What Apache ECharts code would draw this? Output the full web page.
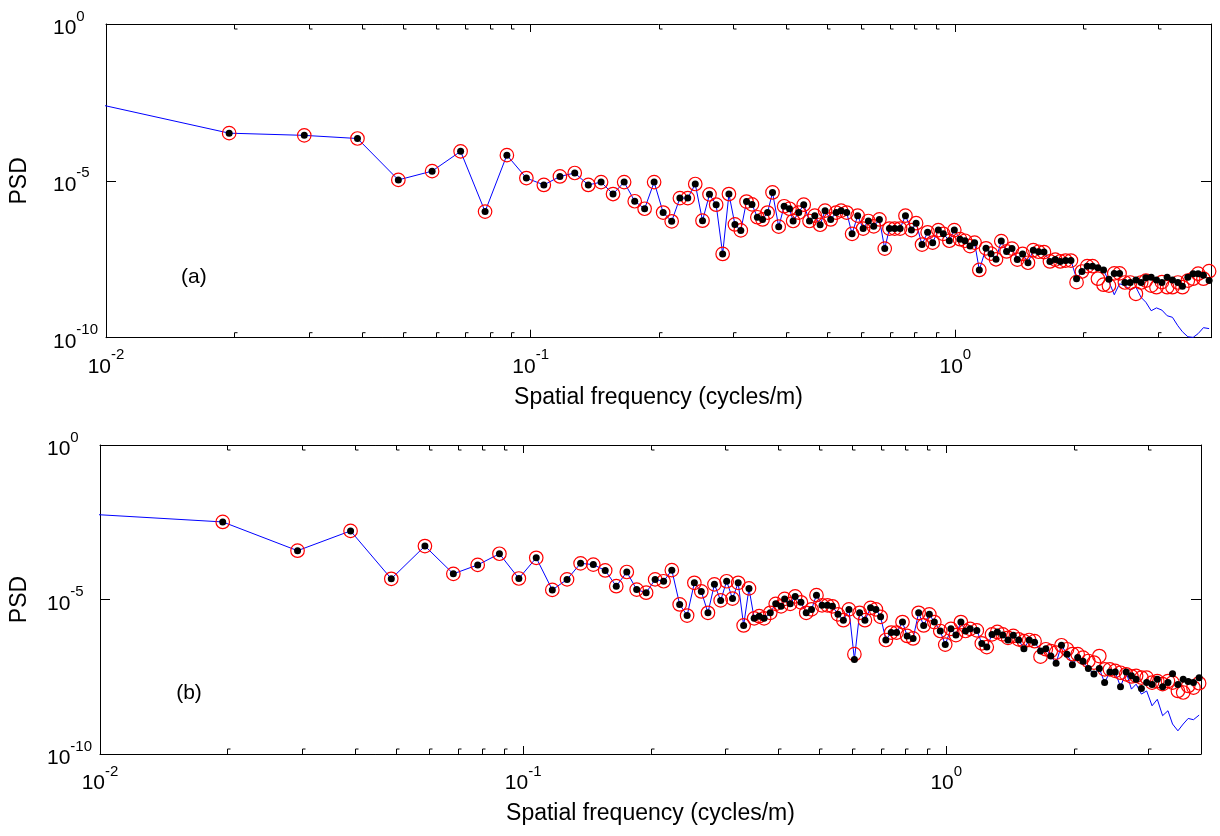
<!DOCTYPE html>
<html><head><meta charset="utf-8">
<script src="https://cdn.jsdelivr.net/npm/echarts@6/dist/echarts.min.js"></script>
<style>html,body{margin:0;padding:0;background:#fff}#c{width:1220px;height:836px}</style>
</head><body><div id="c"></div>
<script>
// ---------- data (frequency in cycles/m, PSD given as log10 values) ----------
const freq = [
0.0195,0.0293,0.0391,0.0488,0.0586,0.0684,0.0781,0.0879,0.0977,0.1074,
0.1172,0.1270,0.1367,0.1465,0.1563,0.1660,0.1758,0.1855,0.1953,0.2051,
0.2148,0.2246,0.2344,0.2441,0.2539,0.2637,0.2734,0.2832,0.2930,0.3027,
0.3125,0.3223,0.3320,0.3418,0.3516,0.3613,0.3711,
0.3838,0.3953,0.4069,0.4150,0.4278,0.4395,0.4535,0.4667,0.4804,0.4935,
0.5087,0.5239,0.5383,0.5548,0.5713,0.5889,0.6066,0.6241,0.6424,0.6625,
0.6820,0.6996,0.7199,0.7412,0.7631,0.7881,0.8084,0.8348,0.8605,0.8844,
0.9120,0.9371,0.9680,0.9945,1.0258,1.0539,1.0829,1.1101,1.1389,1.1810,
1.2134,1.2468,1.2829,1.3203,1.3595,1.3993,1.4402,1.4829,1.5259,1.5704,
1.6170,1.6703,1.7192,1.7665,1.8179,1.8719,1.9296,1.9868,2.0447,2.1044,
2.1669,2.2336,2.3000,2.3673,2.4364,2.5080,2.5813,2.6622,2.7394,2.8102,
2.8922,2.9761,3.0649,3.1537,3.2458,3.3420,3.4262,3.5279,3.6308,3.7309,
3.8391,3.9595];

// first sample of the blue spectra (lies just left of the axis minimum)
const lineStartFreq = 0.00977;
const lineStartA = -2.58;
const lineStartB = -2.25;

// panel (a)
const dotsA = [
-3.48,-3.55,-3.65,-4.97,-4.69,-4.06,-5.98,-4.18,-4.91,-5.13,
-4.86,-4.75,-5.13,-5.04,-5.42,-5.04,-5.65,-5.89,-5.04,-6.01,
-6.29,-5.55,-5.55,-5.10,-6.27,-5.43,-5.76,-7.33,-5.42,-6.39,
-6.58,-5.66,-5.75,-6.16,-6.23,-6.01,-5.37,
-6.46,-5.81,-5.89,-6.28,-6.01,-5.76,-6.28,-6.11,-6.40,-5.95,
-6.23,-6.01,-5.95,-6.01,-6.69,-6.11,-6.52,-6.28,-6.45,-6.23,
-7.16,-6.52,-6.52,-6.52,-6.11,-6.57,-6.35,-7.03,-6.64,-6.97,
-6.57,-6.69,-6.91,-6.57,-6.86,-6.91,-7.08,-6.97,-7.84,-7.15,
-7.32,-7.50,-6.92,-7.25,-7.16,-7.51,-7.33,-7.61,-7.21,-7.26,
-7.27,-7.57,-7.51,-7.57,-7.54,-7.54,-8.12,-7.89,-7.72,-7.72,
-7.77,-7.84,-8.14,-7.95,-7.95,-8.24,-8.24,-8.16,-8.24,-8.09,
-8.07,-8.16,-8.24,-8.07,-8.16,-8.24,-8.36,-8.07,-7.96,-7.96,
-8.01,-8.18];
const circA = [
-3.48,-3.55,-3.65,-4.97,-4.69,-4.06,-5.98,-4.18,-4.91,-5.13,
-4.86,-4.75,-5.13,-5.04,-5.42,-5.04,-5.65,-5.89,-5.04,-6.01,
-6.29,-5.55,-5.55,-5.10,-6.27,-5.43,-5.76,-7.33,-5.42,-6.39,
-6.58,-5.66,-5.75,-6.16,-6.23,-6.01,-5.37,
-6.46,-5.81,-5.89,-6.28,-6.01,-5.76,-6.28,-6.11,-6.40,-5.95,
-6.23,-6.01,-5.95,-6.01,-6.69,-6.11,-6.52,-6.28,-6.45,-6.23,
-7.16,-6.52,-6.52,-6.52,-6.11,-6.57,-6.35,-7.03,-6.64,-6.97,
-6.57,-6.69,-6.91,-6.57,-6.86,-6.91,-7.08,-6.97,-7.84,-7.15,
-7.32,-7.50,-6.92,-7.25,-7.16,-7.51,-7.33,-7.61,-7.21,-7.26,
-7.27,-7.57,-7.51,-7.57,-7.54,-7.54,-8.23,-7.89,-7.72,-7.72,
-8.12,-8.31,-8.34,-7.95,-7.95,-8.24,-8.24,-8.60,-8.24,-8.18,
-8.34,-8.39,-8.23,-8.39,-8.39,-8.24,-8.39,-8.18,-8.12,-7.96,
-8.12,-7.88];
const lineA = [
-3.48,-3.55,-3.65,-4.97,-4.69,-4.06,-5.98,-4.18,-4.91,-5.13,
-4.86,-4.75,-5.13,-5.04,-5.42,-5.04,-5.65,-5.89,-5.04,-6.01,
-6.29,-5.55,-5.55,-5.10,-6.27,-5.43,-5.76,-7.33,-5.42,-6.39,
-6.58,-5.66,-5.75,-6.16,-6.23,-6.01,-5.37,
-6.46,-5.81,-5.89,-6.28,-6.01,-5.76,-6.28,-6.11,-6.40,-5.95,
-6.23,-6.01,-5.95,-6.01,-6.69,-6.11,-6.52,-6.28,-6.45,-6.23,
-7.16,-6.52,-6.52,-6.52,-6.11,-6.57,-6.35,-7.03,-6.64,-6.97,
-6.57,-6.69,-6.91,-6.57,-6.86,-6.91,-7.08,-6.97,-7.84,-7.15,
-7.32,-7.50,-6.92,-7.25,-7.16,-7.51,-7.33,-7.61,-7.21,-7.26,
-7.27,-7.57,-7.51,-7.57,-7.54,-7.54,-8.12,-7.89,-7.72,-7.72,
-7.77,-7.84,-8.21,-8.63,-8.28,-8.34,-8.48,-8.39,-8.72,-8.87,
-9.14,-9.05,-9.12,-9.30,-9.35,-9.62,-9.81,-9.97,-9.99,-9.87,
-9.68,-9.71];

// panel (b)
const dotsB = [
-2.49,-3.42,-2.78,-4.33,-3.27,-4.17,-3.88,-3.52,-4.32,-3.65,
-4.69,-4.35,-3.83,-3.87,-4.06,-4.57,-4.11,-4.68,-4.78,-4.35,
-4.41,-4.05,-5.16,-5.52,-4.46,-4.74,-5.43,-4.51,-5.03,-4.41,
-4.97,-4.46,-5.84,-4.64,-5.61,-5.54,-5.61,
-5.43,-5.14,-5.22,-4.98,-5.14,-4.90,-5.09,-5.43,-5.32,-4.86,
-5.19,-5.19,-5.22,-5.48,-5.67,-5.32,-6.94,-5.43,-5.67,-5.27,
-5.32,-5.56,-6.31,-6.07,-6.07,-5.73,-6.18,-6.26,-5.43,-5.84,
-5.48,-5.73,-6.02,-6.46,-5.95,-6.15,-5.73,-6.02,-5.95,-6.00,
-6.42,-6.54,-6.13,-6.05,-6.15,-6.31,-6.16,-6.31,-6.59,-6.31,
-6.38,-6.67,-6.59,-6.83,-7.06,-6.48,-6.77,-7.11,-6.88,-7.00,
-7.23,-7.41,-7.23,-7.69,-7.35,-7.35,-7.82,-7.35,-7.47,-7.58,
-7.88,-7.69,-7.75,-7.58,-7.82,-7.69,-7.40,-7.75,-7.58,-7.65,
-7.69,-7.53];
const circB = [
-2.49,-3.42,-2.78,-4.33,-3.27,-4.17,-3.88,-3.52,-4.32,-3.65,
-4.69,-4.35,-3.83,-3.87,-4.06,-4.57,-4.11,-4.68,-4.78,-4.35,
-4.41,-4.05,-5.16,-5.52,-4.46,-4.74,-5.43,-4.51,-5.03,-4.41,
-4.97,-4.46,-5.84,-4.64,-5.61,-5.54,-5.61,
-5.43,-5.14,-5.22,-4.98,-5.14,-4.90,-5.09,-5.43,-5.32,-4.86,
-5.19,-5.19,-5.22,-5.48,-5.67,-5.32,-6.77,-5.43,-5.67,-5.27,
-5.32,-5.56,-6.31,-6.07,-6.07,-5.73,-6.18,-6.26,-5.43,-5.84,
-5.48,-5.73,-6.02,-6.46,-5.95,-6.15,-5.73,-6.02,-5.95,-6.00,
-6.42,-6.54,-6.13,-6.05,-6.13,-6.24,-6.18,-6.29,-6.35,-6.31,
-6.35,-6.85,-6.61,-6.67,-6.72,-6.48,-6.61,-6.77,-6.77,-6.88,
-6.99,-7.04,-6.83,-7.26,-7.26,-7.31,-7.37,-7.42,-7.49,-7.47,
-7.53,-7.53,-7.69,-7.64,-7.74,-7.64,-7.69,-7.96,-8.01,-7.80,
-7.85,-7.71];
const lineB = [
-2.49,-3.42,-2.78,-4.33,-3.27,-4.17,-3.88,-3.52,-4.32,-3.65,
-4.69,-4.35,-3.83,-3.87,-4.06,-4.57,-4.11,-4.68,-4.78,-4.35,
-4.41,-4.05,-5.16,-5.52,-4.46,-4.74,-5.43,-4.51,-5.03,-4.41,
-4.97,-4.46,-5.84,-4.64,-5.61,-5.54,-5.61,
-5.43,-5.14,-5.22,-4.98,-5.14,-4.90,-5.09,-5.43,-5.32,-4.86,
-5.19,-5.19,-5.22,-5.48,-5.67,-5.32,-6.94,-5.43,-5.67,-5.27,
-5.32,-5.56,-6.31,-6.07,-6.07,-5.73,-6.18,-6.26,-5.43,-5.84,
-5.48,-5.73,-6.02,-6.46,-5.95,-6.15,-5.73,-6.02,-5.95,-6.00,
-6.42,-6.54,-6.13,-6.05,-6.15,-6.31,-6.16,-6.31,-6.59,-6.31,
-6.38,-6.67,-6.59,-6.83,-7.06,-6.48,-6.77,-7.11,-6.88,-7.00,
-7.23,-7.41,-7.23,-7.69,-7.35,-7.35,-7.82,-7.35,-7.90,-7.74,
-8.06,-7.96,-8.44,-8.23,-8.76,-8.60,-9.03,-9.25,-9.03,-8.85,
-8.89,-8.74];

// axes
const xMin = 0.01, xMax = 4;
const yMin = 1e-10, yMax = 1;
const minorTicks = [0.02,0.03,0.04,0.05,0.06,0.07,0.08,0.09,0.2,0.3,0.4,0.5,0.6,0.7,0.8,0.9,2,3];
const panelTags = ['(a)', '(b)'];
const tagPos = [[0.0161, -8.08], [0.01623, -8.04]];
const xTitle = 'Spatial frequency (cycles/m)';
const yTitle = 'PSD';

// ---------- chart ----------
const FONT = '"Liberation Sans", Arial, Helvetica, sans-serif';
const rich = {
  b: {fontSize: 21, fontFamily: FONT, color: '#000', verticalAlign: 'bottom'},
  s: {fontSize: 15, fontFamily: FONT, color: '#000', verticalAlign: 'bottom', padding: [0, 0, 15, 0]}
};
function powLabel(v) {
  const lg = Math.log10(v);
  const e = Math.round(lg);
  if (Math.abs(lg - e) > 1e-6) return '';
  return '{b|10}{s|' + (e === 0 ? '0' : String(e)) + '}';
}
const pts = (xs, ys) => xs.map((x, i) => [x, Math.pow(10, ys[i])]);

const grids = [
  {left: 106, top: 24, width: 1105, height: 313.7},
  {left: 100, top: 445, width: 1101, height: 309}
];
const nameGapY = [75, 69];

const xAxis = [], yAxis = [], series = [];
grids.forEach((g, gi) => {
  const base = {
    gridIndex: gi, type: 'log', logBase: 10, min: xMin, max: xMax,
    axisLine: {show: true, onZero: false, lineStyle: {color: '#000', width: 1}},
    axisTick: {show: true, inside: true, length: 8, lineStyle: {color: '#000', width: 1}},
    splitLine: {show: false}, minorTick: {show: false}
  };
  xAxis.push(Object.assign({}, base, {
    position: 'bottom',
    axisLabel: {formatter: powLabel, rich: rich, margin: 10},
    name: xTitle, nameLocation: 'middle', nameGap: 48,
    nameTextStyle: {fontSize: 23, fontFamily: FONT, color: '#000'}
  }));
  xAxis.push(Object.assign({}, base, {position: 'top', axisLabel: {show: false}}));
  const ybase = {
    gridIndex: gi, type: 'log', logBase: 10, min: yMin, max: yMax, interval: 5,
    axisLine: {show: true, onZero: false, lineStyle: {color: '#000', width: 1}},
    axisTick: {show: true, inside: true, length: 10, lineStyle: {color: '#000', width: 1}},
    splitLine: {show: false}, minorTick: {show: false}
  };
  yAxis.push(Object.assign({}, ybase, {
    position: 'left',
    axisLabel: {formatter: powLabel, rich: rich, margin: 53, align: 'left'},
    name: yTitle, nameLocation: 'middle', nameGap: nameGapY[gi],
    nameTextStyle: {fontSize: 23, fontFamily: FONT, color: '#000'}
  }));
  yAxis.push(Object.assign({}, ybase, {position: 'right', axisLabel: {show: false}}));
});

const dots = [dotsA, dotsB], circs = [circA, circB], lines = [lineA, lineB];
const starts = [lineStartA, lineStartB];
for (let gi = 0; gi < 2; gi++) {
  const xi = gi * 2, yi = gi * 2;
  // minor ticks along top and bottom edges
  series.push({
    type: 'custom', xAxisIndex: xi, yAxisIndex: yi, silent: true, clip: false, z: 1,
    data: minorTicks.map(f => [f, 1]),
    renderItem: function (params, api) {
      const x = Math.round(api.coord([api.value(0), 1])[0]) + 0.5;
      const top = params.coordSys.y, bot = params.coordSys.y + params.coordSys.height;
      const st = {stroke: '#000', lineWidth: 1, fill: null};
      return {type: 'group', children: [
        {type: 'polyline', shape: {points: [[x, top], [x, top + 5], [x + 3, top + 5]]}, style: st},
        {type: 'polyline', shape: {points: [[x, bot], [x, bot - 5], [x + 3, bot - 5]]}, style: st}
      ]};
    }
  });
  series.push({
    type: 'line', xAxisIndex: xi, yAxisIndex: yi, z: 2,
    data: [[lineStartFreq, Math.pow(10, starts[gi])]].concat(pts(freq, lines[gi])),
    showSymbol: false, symbol: 'none', clip: true,
    lineStyle: {color: '#0000ff', width: 1, opacity: 1}
  });
  series.push({
    type: 'scatter', xAxisIndex: xi, yAxisIndex: yi, z: 3,
    data: pts(freq, circs[gi]), symbol: 'circle', symbolSize: 13.5,
    itemStyle: {color: 'rgba(0,0,0,0)', borderColor: '#ff0000', borderWidth: 1.2, opacity: 1}
  });
  series.push({
    type: 'scatter', xAxisIndex: xi, yAxisIndex: yi, z: 4,
    data: pts(freq, dots[gi]), symbol: 'circle', symbolSize: 7,
    itemStyle: {color: '#000', opacity: 1}
  });
  series.push({
    type: 'scatter', xAxisIndex: xi, yAxisIndex: yi, z: 5, silent: true,
    data: [[tagPos[gi][0], Math.pow(10, tagPos[gi][1])]],
    symbolSize: 1, itemStyle: {color: 'rgba(0,0,0,0)', opacity: 1},
    label: {show: true, position: 'inside', formatter: panelTags[gi], fontSize: 21,
            fontFamily: FONT, color: '#000', opacity: 1, textBorderWidth: 0}
  });
}

const chart = echarts.init(document.getElementById('c'), null, {renderer: 'canvas'});
chart.setOption({
  animation: false, backgroundColor: '#fff',
  grid: grids, xAxis: xAxis, yAxis: yAxis, series: series
});
</script></body></html>
